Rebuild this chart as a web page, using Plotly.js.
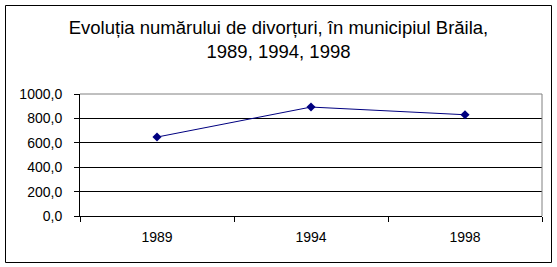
<!DOCTYPE html>
<html>
<head>
<meta charset="utf-8">
<script src="https://cdn.plot.ly/plotly-3.0.1.min.js"></script>
<style>
html, body { margin: 0; padding: 0; background: #fff; }
#chart { width: 557px; height: 267px; }
</style>
</head>
<body>
<div id="chart"></div>
<script>
const years = ["1989", "1994", "1998"];
const divorces = [647, 893, 830];
const yTicks = [0, 200, 400, 600, 800, 1000];
const chartTitle = "Evoluția numărului de divorțuri, în municipiul Brăila,<br>1989, 1994, 1998";

const L = 80, R = 15, T = 94, B = 51;
const W = 557, H = 267;
const pw = W - L - R, ph = H - T - B;
const px = v => (v - L) / pw;
const py = v => (H - B - v) / ph;

const trace = {
  x: years,
  y: divorces,
  type: "scatter",
  mode: "lines+markers",
  line: { color: "#000080", width: 1 },
  marker: { symbol: "diamond", size: 7, color: "#000080" },
  cliponaxis: false,
  hoverinfo: "none"
};

const layout = {
  width: W,
  height: H,
  margin: { l: L, r: R, t: T, b: B, pad: 0 },
  paper_bgcolor: "#ffffff",
  plot_bgcolor: "#ffffff",
  showlegend: false,
  separators: ",.",
  font: { family: "Arial, 'Liberation Sans', sans-serif", color: "#000000", size: 14 },
  title: {
    text: chartTitle,
    font: { family: "Arial, 'Liberation Sans', sans-serif", size: 18.5, color: "#000000" },
    xref: "container", x: 0.5, xanchor: "center",
    yref: "container", y: 1 - 34 / H, yanchor: "top"
  },
  xaxis: {
    type: "category",
    range: [-0.5, 2.5],
    tickson: "boundaries",
    ticks: "outside",
    ticklen: 5,
    tickcolor: "#000000",
    tickwidth: 1,
    showline: true,
    linecolor: "#000000",
    linewidth: 1,
    showgrid: false,
    zeroline: false,
    ticklabelstandoff: 8,
    tickfont: { size: 14, color: "#000000" }
  },
  yaxis: {
    range: [0, 1000],
    tickvals: yTicks,
    tickformat: ".1f",
    ticks: "outside",
    ticklen: 5,
    tickcolor: "#000000",
    tickwidth: 1,
    showline: true,
    linecolor: "#000000",
    linewidth: 1,
    showgrid: true,
    gridcolor: "#000000",
    gridwidth: 1,
    zeroline: false,
    ticklabelstandoff: 9,
    tickfont: { size: 14, color: "#000000" }
  },
  shapes: [
    { type: "line", xref: "paper", yref: "paper", x0: 0, x1: 1, y0: 1, y1: 1,
      line: { color: "#808080", width: 1 } },
    { type: "line", xref: "paper", yref: "paper", x0: 1, x1: 1, y0: 0, y1: 1,
      line: { color: "#808080", width: 1 } },
    { type: "rect", xref: "paper", yref: "paper",
      x0: px(5.5), x1: px(551.5), y0: py(262.5), y1: py(5.5),
      line: { color: "#000000", width: 1 }, fillcolor: "rgba(0,0,0,0)" }
  ]
};

Plotly.newPlot("chart", [trace], layout, { staticPlot: true, displayModeBar: false });
</script>
</body>
</html>
